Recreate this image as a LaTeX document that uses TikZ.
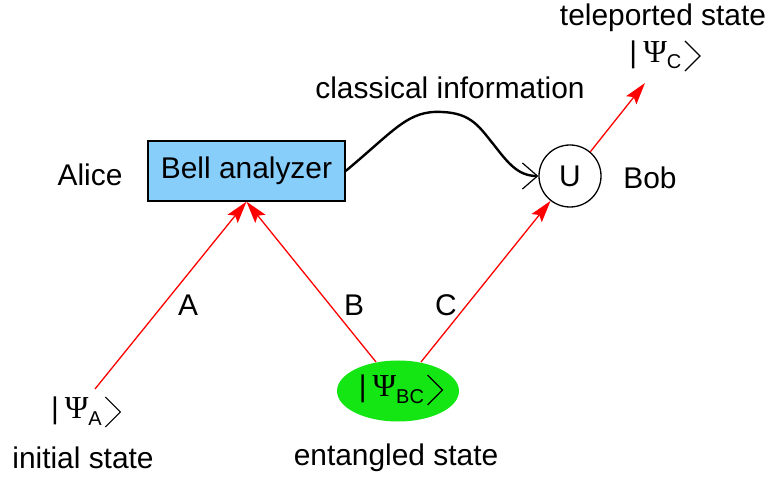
\documentclass[tikz,border=0pt]{standalone}
\usepackage{fontspec}
\setmainfont{Liberation Sans}
\newfontfamily\greekfont{Liberation Serif}
\usetikzlibrary{arrows.meta,shapes.geometric}
\definecolor{boxblue}{RGB}{135,206,250}
\definecolor{blobgreen}{RGB}{20,230,20}
% tall thin closing angle of a ket
\newcommand{\ketangle}{\tikz[baseline=0pt,x=1pt,y=1pt]\draw[line width=1.2pt] (0,22)--(15,7)--(0,-8);}
% ket: thin bar, serif Psi, lowered sans subscript, angle
\newcommand{\ketstate}[1]{|\hspace{6pt}{\greekfont\fontsize{32pt}{36pt}\selectfont Ψ}\raisebox{-6pt}{\fontsize{20pt}{20pt}\selectfont #1}\hspace{3pt}\ketangle}
\tikzset{
  every node/.style={font=\fontsize{29.9pt}{36pt}\selectfont, inner sep=0pt},
  qarrow/.style={draw=red, line width=1.3pt,
    -{Stealth[length=22pt,width=13pt,inset=4pt,fill=red]}},
  infoarrow/.style={draw=black, line width=2.4pt,
    -{Straight Barb[length=15pt,width=26pt,line width=1.2pt]}},
}
\begin{document}
\begin{tikzpicture}[x=1pt,y=-1pt]
  \useasboundingbox (0,0) rectangle (769,478);

  % devices
  \node[draw=black, line width=1.3pt, fill=boxblue, minimum width=197pt,
        minimum height=60pt] (bell) at (246.5,171) {Bell analyzer};
  \node[draw=black, line width=1.3pt, circle, minimum size=62pt] (U) at (570,176) {U};
  \node[ellipse, fill=blobgreen, minimum width=122pt, minimum height=61pt] (pair) at (398,391) {};

  % state labels
  \node (ketBC) at (401,390) {\ketstate{BC}};
  \node (ketA) at (86,412) {\ketstate{A}};
  \node (ketC) at (665,56) {\ketstate{C}};

  % text labels
  \node (alice) at (90,175) {Alice};
  \node (bob) at (650,178) {Bob};
  \node (classinfo) at (450,88) {classical information};
  \node (teleported) at (663,18) {teleported state};
  \node (initial) at (83,458) {initial state};
  \node (entangled) at (396,458) {entangled state};
  \node (lA) at (188,305) {A};
  \node (lB) at (354,305) {B};
  \node (lC) at (446,305) {C};

  % photon paths
  \coordinate (srcA) at (95,389);
  \coordinate (srcB) at (376,362);
  \coordinate (srcC) at (421,362);
  \coordinate (outC) at (645,83);
  \draw[qarrow] (srcA) -- (bell.south);
  \draw[qarrow] (srcB) -- (bell.south);
  \draw[qarrow] (srcC) -- (U.-128);
  \draw[qarrow] (U.50) -- (outC);

  % classical channel
  \draw[infoarrow] (bell.east) .. controls (395,130) and (408,110) .. (442,112)
    .. controls (472,113) and (480,128) .. (494,145)
    .. controls (508,163) and (518,176) .. (U.west);
\end{tikzpicture}
\end{document}
